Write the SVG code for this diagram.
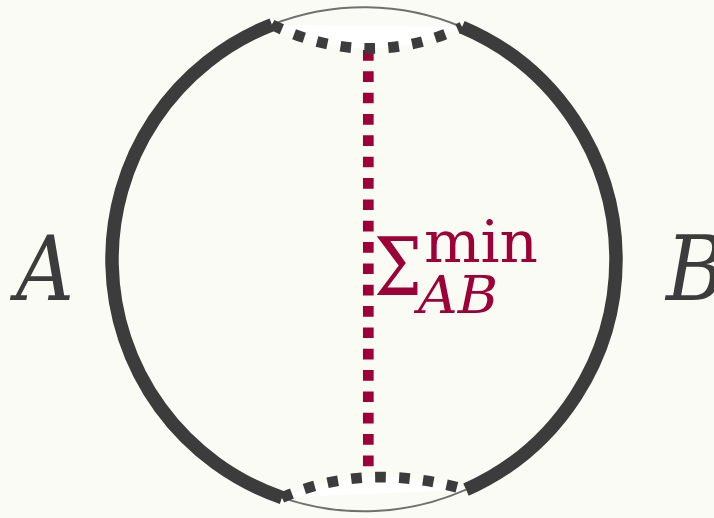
<svg xmlns="http://www.w3.org/2000/svg" width="714" height="518" viewBox="0 0 714 518">
  <style>
    .thick { fill: none; stroke: #3c3c3c; stroke-width: 13.5; }
    .thin { fill: none; stroke: #707070; stroke-width: 2; }
    .geo { fill: none; stroke: #3c3c3c; stroke-width: 10.7; stroke-dasharray: 10.7 13.3; }
    .lens { fill: #ffffff; stroke: none; }
    .cut { fill: none; stroke: #9c0036; stroke-width: 10.7; stroke-dasharray: 10.67 10.67; }
    .lbl { font-family: "DejaVu Serif", serif; fill: #3c3c3c; font-style: italic; }
    .red { font-family: "DejaVu Serif", serif; fill: #9c0036; }
  </style>
  <rect x="0" y="0" width="714" height="518" fill="#fbfbf5"/>
  <g id="lens-top"><path class="lens" d="M272,24.7 L462,27.1 Q368,71 272,24.7 Z"/></g>
  <g id="lens-bottom"><path class="lens" d="M282,497.6 L466,489.7 Q365,461 282,497.6 Z"/></g>
  <g id="region-A"><path class="thick" d="M272,24.7 A252,252 0 0 0 282,497.6"/></g>
  <g id="region-B"><path class="thick" d="M462,27.1 A252,252 0 0 1 466,489.7"/></g>
  <g id="gap-top"><path class="thin" d="M272,24.7 A252,252 0 0 1 462,27.1"/></g>
  <g id="gap-bottom"><path class="thin" d="M466,489.7 A252,252 0 0 1 282,497.6"/></g>
  <g id="connectors">
    <path class="cut" d="M368.3,50 L368.3,476"/>
    <path class="geo" d="M272,24.7 Q368,71 462,27.1"/>
    <path class="geo" d="M282,497.6 Q365,461 466,489.7"/>
  </g>
  <g id="label-A"><text class="lbl" x="16" y="300" font-size="89" textLength="58" lengthAdjust="spacingAndGlyphs">A</text></g>
  <g id="label-B"><text class="lbl" x="666" y="300" font-size="89" textLength="60" lengthAdjust="spacingAndGlyphs">B</text></g>
  <g id="label-sigma">
    <text class="red" x="374" y="295" font-size="80" textLength="48" lengthAdjust="spacingAndGlyphs">Σ</text>
    <text class="red" x="424" y="262" font-size="58" textLength="114" lengthAdjust="spacingAndGlyphs">min</text>
    <text class="red" x="418" y="313" font-size="52" font-style="italic" textLength="80" lengthAdjust="spacingAndGlyphs">AB</text>
  </g>
</svg>
